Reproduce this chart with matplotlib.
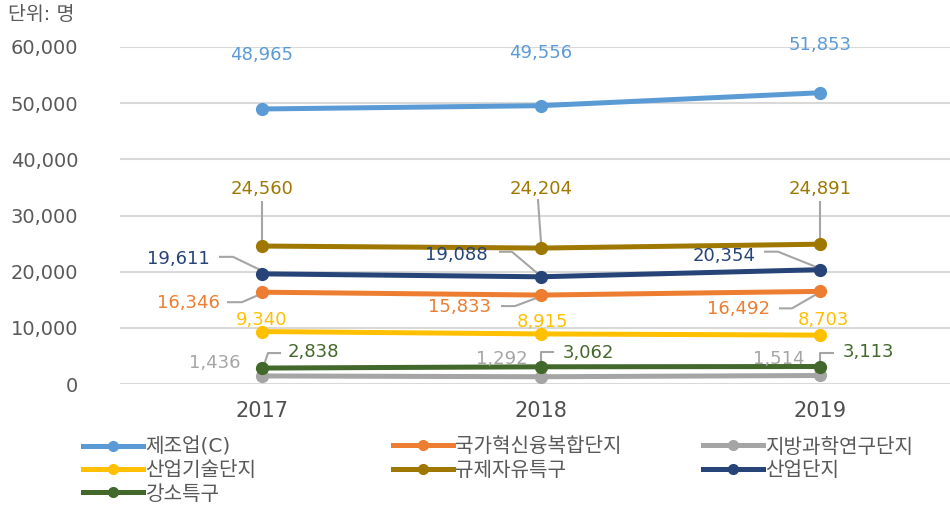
import matplotlib
matplotlib.use("Agg")
import matplotlib.pyplot as plt
from matplotlib.lines import Line2D
import numpy as np

plt.rcParams['font.family'] = ['DejaVu Sans', 'Noto Sans CJK KR']

years = ["2017", "2018", "2019"]
manufacturing = [48965, 49556, 51853]      # 제조업(C)
innovation = [16346, 15833, 16492]         # 국가혁신융복합단지
science = [1436, 1292, 1514]               # 지방과학연구단지
techpark = [9340, 8915, 8703]              # 산업기술단지
regfree = [24560, 24204, 24891]            # 규제자유특구
industrial = [19611, 19088, 20354]         # 산업단지
innopolis = [2838, 3062, 3113]             # 강소특구

names = ["제조업(C)", "국가혁신융복합단지", "지방과학연구단지", "산업기술단지",
         "규제자유특구", "산업단지", "강소특구"]
series = [manufacturing, innovation, science, techpark, regfree, industrial, innopolis]
colors = ["#5B9BD5", "#ED7D31", "#A5A5A5", "#FFC000", "#9E7800", "#264478", "#43682B"]

# label placement in pixels relative to each point: (dx, dy, ha)
label_pos = [
    [(0, 54, 'center'), (0, 53, 'center'), (0, 48, 'center')],
    [(-42, -11, 'right'), (-50, -12, 'right'), (-50, -18, 'right')],
    [(-22, 13, 'right'), (-13, 18, 'right'), (-15, 16, 'right')],
    [(0, 12, 'center'), (2, 12, 'center'), (3, 15, 'center')],
    [(0, 57, 'center'), (0, 59, 'center'), (0, 55, 'center')],
    [(-52, 15, 'right'), (-53, 22, 'right'), (-64, 14, 'right')],
    [(26, 16, 'left'), (22, 14, 'left'), (23, 15, 'left')],
]
# leader lines (pixel offsets from the point)
leaders = {
    1: [[(-4, -3), (-20, -10), (-34, -10)], [(-2, -2), (-26, -11), (-39, -11)],
        [(-2, -2), (-28, -17), (-40, -17)]],
    4: [[(0, 6), (0, 44)], [(0, 6), (-3, 48)], [(0, 6), (0, 42)]],
    5: [[(-2, 4), (-29, 17), (-42, 17)], [(-3, 3), (-29, 25), (-41, 25)],
        [(-2, 2), (-42, 18), (-55, 18)]],
    6: [[(1, 0), (6, 15), (18, 15)], [(0, 0), (0, 15), (12, 15)],
        [(0, 0), (0, 14), (13, 14)]],
}

fig = plt.figure(figsize=(9.5, 5.08), dpi=100)
ax = fig.add_axes([120 / 950, 124 / 508, 830 / 950, 337 / 508])
x = np.arange(len(years))

for vals, name, c in zip(series, names, colors):
    ax.plot(x, vals, color=c, lw=3.6, marker='o', ms=8.5, label=name,
            solid_capstyle='round', zorder=3)

ax.set_xlim(-0.509, 2.466)
ax.set_ylim(0, 60000)
ax.set_yticks(np.arange(0, 60001, 10000))
ax.set_yticklabels([f"{v:,}" for v in range(0, 60001, 10000)])
ax.set_xticks(x)
ax.set_xticklabels(years)
ax.tick_params(axis='y', length=0, pad=30, labelsize=14, labelcolor='#595959')
ax.tick_params(axis='x', length=0, pad=12, labelsize=15, labelcolor='#505050')
ax.grid(axis='y', color='#D9D9D9', lw=1.5)
ax.set_axisbelow(True)
for s in ax.spines.values():
    s.set_visible(False)

fig.canvas.draw()
inv = ax.transData.inverted()
for i, (vals, c) in enumerate(zip(series, colors)):
    for j, v in enumerate(vals):
        dx, dy, ha = label_pos[i][j]
        ax.annotate(f"{v:,}", (j, v), xytext=(dx, dy), textcoords='offset pixels',
                    ha=ha, va='center', fontsize=13, color=c, zorder=5)
        if i in leaders:
            px, py = ax.transData.transform((j, v))
            pts = inv.transform([(px + a, py + b) for a, b in leaders[i][j]])
            ax.plot(pts[:, 0], pts[:, 1], color='#A5A5A5', lw=1.5, zorder=2)

fig.text(8 / 950, 1 - 15 / 508, "단위: 명", fontsize=14, color='#595959',
         ha='left', va='center')

# legend: one entry per slot, three columns
col_x = [73, 383, 693]
row_y = [447, 470.5, 494]
slots = [(0, 0), (1, 0), (2, 0), (0, 1), (1, 1), (2, 1), (0, 2)]
for k, (ci, ri) in enumerate(slots):
    h = Line2D([], [], color=colors[k], lw=3.6, marker='o', ms=7)
    fig.legend([h], [names[k]], loc='center left',
               bbox_to_anchor=(col_x[ci] / 950, 1 - row_y[ri] / 508),
               frameon=False, fontsize=14.5, handlelength=3.0, handletextpad=0.1,
               borderpad=0, labelcolor='#595959')

fig.savefig("out.png", dpi=100)
